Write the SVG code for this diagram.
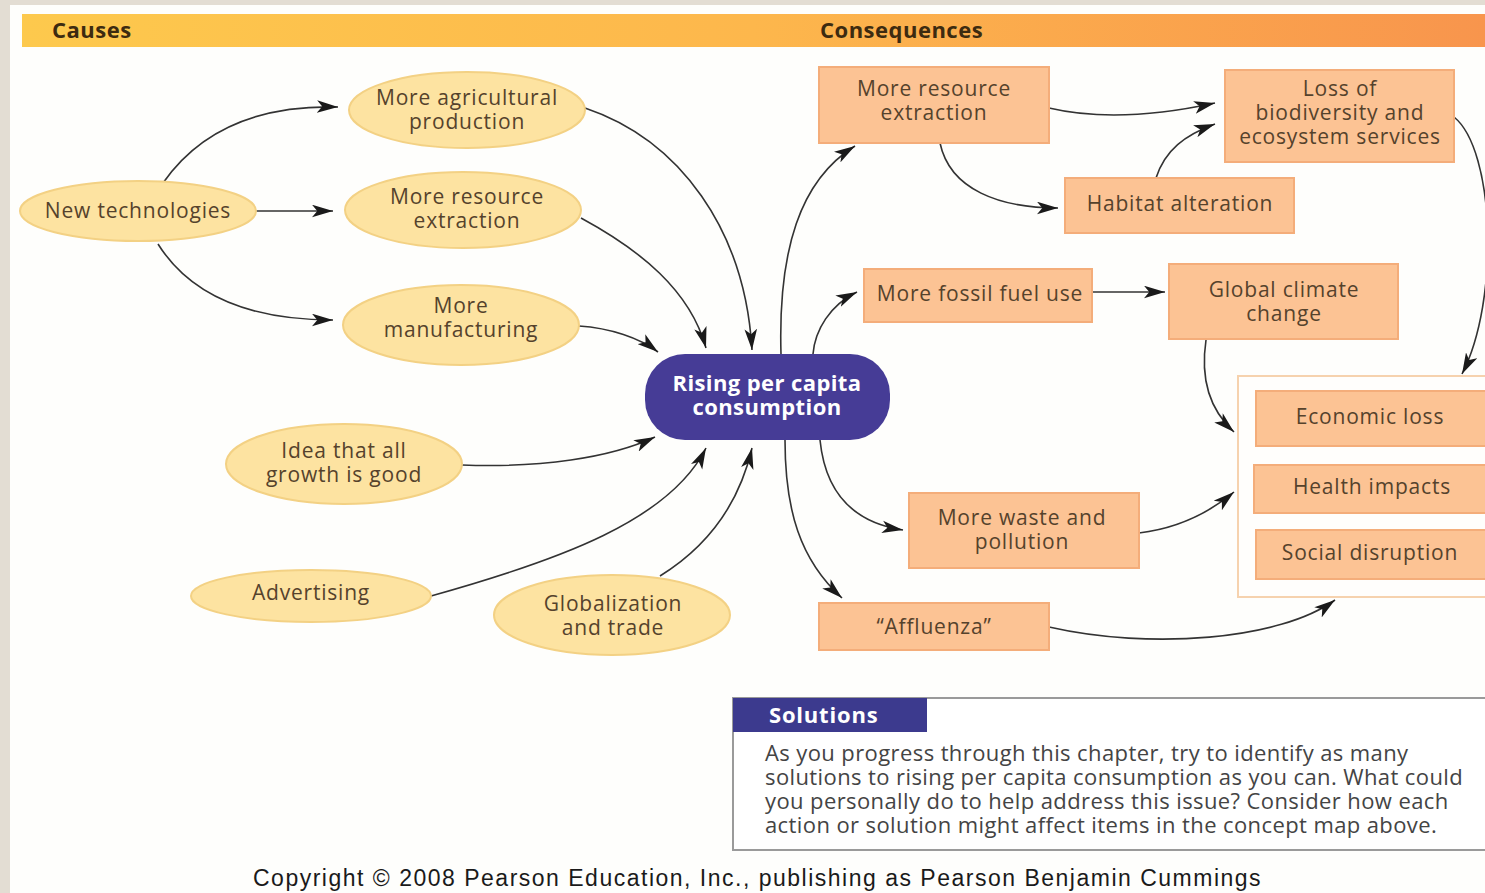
<svg xmlns="http://www.w3.org/2000/svg" width="1485" height="893" viewBox="0 0 1485 893">
<defs>
<linearGradient id="hdr" x1="0" y1="0" x2="1" y2="0">
<stop offset="0" stop-color="#fdc94d"/>
<stop offset="0.5" stop-color="#fdb74c"/>
<stop offset="1" stop-color="#f8954d"/>
</linearGradient>
<marker id="ah" viewBox="0 0 20 12" refX="20" refY="6" markerWidth="21" markerHeight="13" markerUnits="userSpaceOnUse" orient="auto">
<path d="M0,0 L20,6 L0,12 L5,6 Z" fill="#1a1a1a"/>
</marker>
<style>
.ell{fill:#fde3a1;stroke:#f3d184;stroke-width:2}
.box{fill:#fcc394;stroke:#f4ad7a;stroke-width:2}
.t{font-family:"Open Sans","Noto Sans",sans-serif;font-size:21px;letter-spacing:0.8px;fill:#55422c;text-anchor:middle}
.h{font-family:"Open Sans","Noto Sans",sans-serif;font-size:22px;letter-spacing:0.5px;font-weight:bold;fill:#3d2b10}
.w{font-family:"Open Sans","Noto Sans",sans-serif;font-size:22px;letter-spacing:0.4px;font-weight:bold;fill:#fff;text-anchor:middle}
.c{fill:none;stroke:#333;stroke-width:1.6;marker-end:url(#ah)}
.sol{font-family:"Open Sans","Noto Sans",sans-serif;font-size:22px;letter-spacing:0.4px;fill:#444}
</style>
</defs>
<rect x="0" y="0" width="1485" height="893" fill="#e3ddd3"/>
<rect x="10" y="5" width="1475" height="888" fill="#fefefc"/>
<g id="header">
<rect x="22" y="14" width="1463" height="33" fill="url(#hdr)"/>
<text class="h" x="52" y="38">Causes</text>
<text class="h" x="820" y="38">Consequences</text>
</g>
<g id="connectors">
<path class="c" d="M163,183 C200,130 260,105 338,107"/>
<path class="c" d="M256,211 L333,211"/>
<path class="c" d="M158,244 C190,295 250,320 333,320"/>
<path class="c" d="M585,108 C680,140 745,230 752,350"/>
<path class="c" d="M581,218 C640,250 690,290 706,348"/>
<path class="c" d="M579,326 C610,328 640,338 658,352"/>
<path class="c" d="M462,465 C540,468 610,458 655,437"/>
<path class="c" d="M431,596 C560,560 670,520 706,448"/>
<path class="c" d="M660,576 C710,545 740,500 752,448"/>
<path class="c" d="M781,354 C778,250 800,180 855,146"/>
<path class="c" d="M813,354 C815,330 830,305 857,292"/>
<path class="c" d="M820,440 C825,490 850,522 903,530"/>
<path class="c" d="M785,440 C785,510 800,560 842,598"/>
<path class="c" d="M1049,108 C1100,120 1160,115 1215,103"/>
<path class="c" d="M940,143 C950,190 1000,208 1058,208"/>
<path class="c" d="M1156,178 C1165,150 1185,135 1215,124"/>
<path class="c" d="M1092,292 L1165,292"/>
<path class="c" d="M1454,117 C1495,150 1500,300 1462,374"/>
<path class="c" d="M1206,340 C1200,380 1210,410 1234,432"/>
<path class="c" d="M1139,533 C1180,528 1210,512 1234,492"/>
<path class="c" d="M1049,627 C1150,650 1280,640 1335,600"/>
</g>
<g id="new-tech"><ellipse class="ell" cx="138" cy="211" rx="118" ry="30"/><text class="t" x="138" y="218">New technologies</text></g>
<g id="agri"><ellipse class="ell" cx="467" cy="110" rx="118" ry="38"/><text class="t" x="467" y="105">More agricultural<tspan x="467" dy="24">production</tspan></text></g>
<g id="resource-cause"><ellipse class="ell" cx="463" cy="210" rx="118" ry="38"/><text class="t" x="467" y="204">More resource<tspan x="467" dy="24">extraction</tspan></text></g>
<g id="manufacturing"><ellipse class="ell" cx="461" cy="325" rx="118" ry="40"/><text class="t" x="461" y="313">More<tspan x="461" dy="24">manufacturing</tspan></text></g>
<g id="idea"><ellipse class="ell" cx="344" cy="464" rx="118" ry="40"/><text class="t" x="344" y="458">Idea that all<tspan x="344" dy="24">growth is good</tspan></text></g>
<g id="advertising"><ellipse class="ell" cx="311" cy="596" rx="120" ry="26"/><text class="t" x="311" y="600">Advertising</text></g>
<g id="globalization"><ellipse class="ell" cx="612" cy="615" rx="118" ry="40"/><text class="t" x="613" y="611">Globalization<tspan x="613" dy="24">and trade</tspan></text></g>
<g id="center"><rect x="645" y="354" width="245" height="86" rx="40" fill="#463c96"/><text class="w" x="767" y="391">Rising per capita<tspan x="767" dy="24">consumption</tspan></text></g>
<g id="resource-cons"><rect class="box" x="819" y="67" width="230" height="76"/><text class="t" x="934" y="96">More resource<tspan x="934" dy="24">extraction</tspan></text></g>
<g id="loss"><rect class="box" x="1225" y="70" width="229" height="92"/><text class="t" x="1340" y="96">Loss of<tspan x="1340" dy="24">biodiversity and</tspan><tspan x="1340" dy="24">ecosystem services</tspan></text></g>
<g id="habitat"><rect class="box" x="1065" y="178" width="229" height="55"/><text class="t" x="1180" y="211">Habitat alteration</text></g>
<g id="fossil"><rect class="box" x="864" y="269" width="228" height="53"/><text class="t" x="980" y="301">More fossil fuel use</text></g>
<g id="climate"><rect class="box" x="1169" y="264" width="229" height="75"/><text class="t" x="1284" y="297">Global climate<tspan x="1284" dy="24">change</tspan></text></g>
<g id="waste"><rect class="box" x="909" y="493" width="230" height="75"/><text class="t" x="1022" y="525">More waste and<tspan x="1022" dy="24">pollution</tspan></text></g>
<g id="affluenza"><rect class="box" x="819" y="603" width="230" height="47"/><text class="t" x="934" y="634">“Affluenza”</text></g>
<g id="impacts">
<rect x="1238" y="376" width="260" height="221" fill="#fffefc" stroke="#f6d2ae" stroke-width="2"/>
<rect class="box" x="1256" y="391" width="240" height="55"/><text class="t" x="1370" y="424">Economic loss</text>
<rect class="box" x="1254" y="465" width="242" height="48"/><text class="t" x="1372" y="494">Health impacts</text>
<rect class="box" x="1256" y="530" width="240" height="49"/><text class="t" x="1370" y="560">Social disruption</text>
</g>
<g id="solutions">
<rect x="733" y="698" width="765" height="152" fill="#fff" stroke="#9a9a9a" stroke-width="2"/>
<rect x="733" y="698" width="194" height="34" fill="#3c3a8e"/>
<text class="h" x="769" y="723" style="fill:#fff;letter-spacing:0.8px">Solutions</text>
<text class="sol" x="765" y="761">As you progress through this chapter, try to identify as many<tspan x="765" dy="24">solutions to rising per capita consumption as you can. What could</tspan><tspan x="765" dy="24">you personally do to help address this issue? Consider how each</tspan><tspan x="765" dy="24">action or solution might affect items in the concept map above.</tspan></text>
</g>
<text x="253" y="886" style="font-family:'Liberation Sans',Arial,sans-serif;font-size:23px;letter-spacing:1.5px;fill:#1a1a1a">Copyright © 2008 Pearson Education, Inc., publishing as Pearson Benjamin Cummings</text>
</svg>
